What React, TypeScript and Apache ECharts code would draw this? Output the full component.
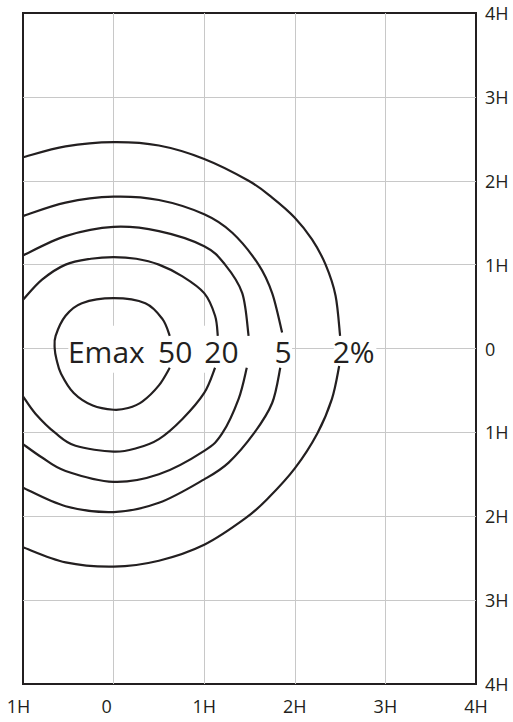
import React, { useEffect, useRef } from 'react';
import * as echarts from 'echarts';

// Tick labels
const xTickValues = [-1, 0, 1, 2, 3, 4];
const xTickLabels = ['1H', '0', '1H', '2H', '3H', '4H'];
const yTickValues = [4, 3, 2, 1, 0, -1, -2, -3, -4];
const yTickLabels = ['4H', '3H', '2H', '1H', '0', '1H', '2H', '3H', '4H'];

// Isolines (x in H, y in H), split where the labels sit
const iso50 = [
  [0.62, -0.23], [0.5, -0.44], [0.32, -0.63], [0.16, -0.71], [0, -0.73], [-0.23, -0.68],
  [-0.44, -0.53], [-0.58, -0.3], [-0.63, -0.13], [-0.65, 0.0], [-0.64, 0.15], [-0.53, 0.39],
  [-0.35, 0.54], [0, 0.6], [0.35, 0.54], [0.54, 0.35], [0.62, 0.15],
];
const iso20Upper = [
  [-1, 0.58], [-0.79, 0.82], [-0.53, 1.0], [-0.25, 1.07], [0, 1.09], [0.25, 1.07],
  [0.5, 1.0], [0.76, 0.86], [1.0, 0.66], [1.12, 0.39], [1.15, 0.15],
];
const iso20Lower = [
  [1.12, -0.23], [1.0, -0.53], [0.76, -0.84], [0.5, -1.08], [0.25, -1.19], [0, -1.23],
  [-0.42, -1.16], [-0.64, -1.01], [-0.86, -0.78], [-1, -0.57],
];
const iso10Upper = [
  [-1, 1.11], [-0.53, 1.34], [0, 1.45], [0.5, 1.4], [1.0, 1.22], [1.23, 1.0],
  [1.42, 0.66], [1.49, 0.15],
];
const iso10Lower = [
  [1.47, -0.23], [1.38, -0.6], [1.2, -1.01], [1.0, -1.22], [0.5, -1.5], [0, -1.59],
  [-0.53, -1.46], [-0.79, -1.3], [-1, -1.14],
];
const iso5Upper = [
  [-1, 1.58], [-0.53, 1.74], [0, 1.81], [0.5, 1.77], [1.0, 1.6], [1.31, 1.38],
  [1.6, 1.0], [1.75, 0.66], [1.86, 0.19],
];
const iso5Lower = [
  [1.84, -0.23], [1.75, -0.65], [1.55, -1.01], [1.27, -1.36], [1.0, -1.56], [0.5, -1.84],
  [0, -1.95], [-0.53, -1.88], [-1, -1.66],
];
const iso2Upper = [
  [-1, 2.28], [-0.53, 2.41], [0, 2.46], [0.5, 2.42], [1.0, 2.26], [1.49, 2.0],
  [1.75, 1.8], [2.0, 1.56], [2.19, 1.3], [2.34, 1.0], [2.45, 0.63], [2.5, 0.15],
];
const iso2Lower = [
  [2.49, -0.21], [2.41, -0.6], [2.25, -1.01], [2.0, -1.43], [1.71, -1.78], [1.46, -2.02],
  [1.0, -2.34], [0.5, -2.53], [0, -2.6], [-0.53, -2.55], [-1, -2.37],
];

// Isoline labels
const labelTexts = ['Emax', '50', '20', '5', '2%'];
const labelXs = [-0.08, 0.68, 1.19, 1.87, 2.65];
const labelY = -0.04;

// Areas where the grid is hidden behind the labels
const maskBoxes = [
  [[-0.5, 0.27], [1.97, -0.29]],
  [[2.43, 0.27], [2.9, -0.29]],
];

const INK = '#231f20';
const FONT = '"Open Sans", Lato, sans-serif';

const isolines = [iso50, iso20Upper, iso20Lower, iso10Upper, iso10Lower, iso5Upper, iso5Lower, iso2Upper, iso2Lower];

// Catmull-Rom spline through pixel points -> SVG path data
function splinePath(p: number[][]): string {
  const f = (v: number) => v.toFixed(2);
  let d = 'M' + f(p[0][0]) + ',' + f(p[0][1]);
  for (let i = 0; i < p.length - 1; i++) {
    const p0 = p[i - 1] || p[i];
    const p1 = p[i];
    const p2 = p[i + 1];
    const p3 = p[i + 2] || p[i + 1];
    const c1x = p1[0] + (p2[0] - p0[0]) / 6;
    const c1y = p1[1] + (p2[1] - p0[1]) / 6;
    const c2x = p2[0] - (p3[0] - p1[0]) / 6;
    const c2y = p2[1] - (p3[1] - p1[1]) / 6;
    d += 'C' + f(c1x) + ',' + f(c1y) + ',' + f(c2x) + ',' + f(c2y) + ',' + f(p2[0]) + ',' + f(p2[1]);
  }
  return d;
}

export default function App() {
  const ref = useRef<HTMLDivElement>(null);
  useEffect(() => {
    const chart = echarts.init(ref.current as HTMLDivElement, null, { renderer: 'svg' });
    const xLabelFor = (v: number) => {
      const i = xTickValues.indexOf(Math.round(v));
      const t = i >= 0 ? xTickLabels[i] : '';
      if (i === 0) return '{a|' + t + '}';
      if (i === 1) return '{b|' + t + '}';
      return t;
    };
    const yLabelFor = (v: number) => {
      const i = yTickValues.indexOf(Math.round(v));
      return i >= 0 ? yTickLabels[i] : '';
    };
    const option: any = {
      animation: false,
      backgroundColor: '#ffffff',
      grid: {
        left: 23,
        right: 37,
        top: 13,
        bottom: 38,
        show: true,
        borderColor: INK,
        borderWidth: 2,
        backgroundColor: 'transparent',
      },
      xAxis: {
        type: 'value',
        min: -1,
        max: 4,
        interval: 1,
        axisLine: { show: false },
        axisTick: { show: false },
        splitLine: { show: true, showMinLine: false, showMaxLine: false, lineStyle: { color: '#c8c8c8', width: 1 } },
        axisLabel: {
          formatter: xLabelFor,
          margin: 13,
          fontSize: 18,
          color: INK,
          fontFamily: FONT,
          rich: {
            a: { padding: [0, 9, 0, 0], fontSize: 18, color: INK, fontFamily: FONT },
            b: { padding: [0, 14, 0, 0], fontSize: 18, color: INK, fontFamily: FONT },
          },
        },
      },
      yAxis: {
        type: 'value',
        position: 'right',
        min: -4,
        max: 4,
        interval: 1,
        axisLine: { show: false },
        axisTick: { show: false },
        splitLine: { show: true, showMinLine: false, showMaxLine: false, lineStyle: { color: '#c8c8c8', width: 1 } },
        axisLabel: {
          formatter: yLabelFor,
          margin: 9,
          fontSize: 18,
          color: INK,
          fontFamily: FONT,
        },
      },
      series: [
        {
          type: 'line',
          data: [[labelXs[0], labelY]],
          symbol: 'none',
          lineStyle: { opacity: 0 },
          silent: true,
          z: 2,
          markArea: {
            silent: true,
            itemStyle: { color: '#ffffff', borderWidth: 0 },
            data: maskBoxes.map((b) => [{ coord: b[0] }, { coord: b[1] }]),
          },
        },
        ...isolines.map((pts) => ({
          type: 'custom',
          coordinateSystem: 'cartesian2d',
          data: [pts[0]],
          silent: true,
          z: 3,
          renderItem: (_params: any, api: any) => {
            const px = pts.map((q) => api.coord(q));
            return {
              type: 'path',
              shape: { pathData: splinePath(px) },
              style: { stroke: INK, lineWidth: 2.2, fill: 'none' },
            };
          },
        })),
        {
          type: 'scatter',
          data: labelXs.map((x) => [x, labelY]),
          symbolSize: 0,
          itemStyle: { color: INK, opacity: 0 },
          silent: true,
          z: 4,
          label: {
            show: true,
            position: 'inside',
            formatter: (p: any) => labelTexts[p.dataIndex],
            fontSize: 30,
            color: INK,
            opacity: 1,
            textBorderWidth: 0,
            fontFamily: FONT,
          },
        },
      ],
    };
    chart.setOption(option);
    return () => chart.dispose();
  }, []);
  return (
    <div
      ref={ref}
      style={{ position: 'fixed', left: 0, top: 0, width: 513, height: 722, background: '#fff' }}
    />
  );
}
